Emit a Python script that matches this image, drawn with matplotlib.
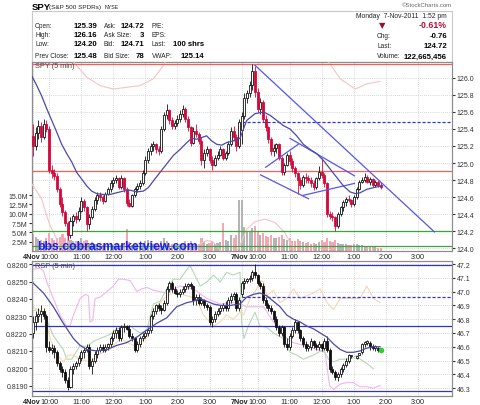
import numpy as np
import matplotlib
matplotlib.use('Agg')
import matplotlib.pyplot as plt
from matplotlib.transforms import ScaledTranslation, blended_transform_factory

plt.rcParams['font.family'] = ['Liberation Sans', 'DejaVu Sans']

# ---------------- SPY 5-min bars (4 Nov: 78 bars, 7 Nov: 53 bars) ----------------
spy_open = [125.32,125.20,125.35,125.44,125.30,125.46,125.40,124.92,124.88,124.85,124.70,124.52,124.42,124.30,124.15,124.32,124.38,124.34,124.44,124.55,
            124.48,124.28,124.36,124.46,124.56,124.62,124.60,124.55,124.64,124.70,124.76,124.80,124.82,124.72,124.82,124.70,124.53,124.50,124.62,124.70,
            124.73,124.76,124.88,125.04,125.14,125.20,125.22,125.16,125.14,125.40,125.56,125.62,125.50,125.44,125.47,125.52,125.58,125.64,125.52,125.42,
            125.24,125.38,125.34,125.26,125.04,125.12,125.16,125.04,124.98,125.06,125.10,125.16,125.06,125.12,125.22,125.38,125.30,125.20,
            125.39,125.55,125.76,125.82,125.92,126.08,125.84,125.64,125.72,125.52,125.42,125.28,125.14,125.18,125.22,125.06,124.90,124.98,125.10,125.02,
            124.94,124.88,124.80,124.74,124.84,124.82,124.80,124.76,124.72,124.82,124.90,124.86,124.76,124.40,124.38,124.36,124.26,124.40,124.48,124.54,
            124.58,124.57,124.52,124.60,124.70,124.78,124.80,124.84,124.78,124.81,124.74,124.78,124.74]
spy_high = [125.46,125.42,125.50,125.48,125.52,125.50,125.43,124.98,124.93,124.88,124.72,124.60,124.45,124.32,124.36,124.40,124.42,124.48,124.60,124.58,
            124.50,124.40,124.50,124.60,124.66,124.66,124.62,124.66,124.72,124.80,124.84,124.86,124.84,124.86,124.84,124.72,124.58,124.64,124.72,124.76,
            124.80,124.92,125.08,125.18,125.24,125.26,125.24,125.20,125.44,125.60,125.69,125.64,125.54,125.50,125.56,125.62,125.68,125.66,125.55,125.44,
            125.42,125.46,125.36,125.30,125.16,125.20,125.18,125.08,125.10,125.14,125.20,125.18,125.14,125.26,125.42,125.44,125.34,125.52,
            125.60,125.82,125.86,125.96,126.16,126.14,125.88,125.76,125.74,125.56,125.44,125.30,125.22,125.24,125.24,125.08,125.00,125.12,125.14,125.06,
            124.96,124.90,124.84,124.86,124.88,124.86,124.84,124.80,124.84,124.96,125.06,124.88,124.78,124.44,124.42,124.38,124.42,124.50,124.56,124.60,
            124.62,124.58,124.62,124.72,124.80,124.84,124.88,124.86,124.84,124.82,124.80,124.80,124.78]
spy_low = [125.08,125.15,125.28,125.25,125.28,125.36,124.88,124.82,124.80,124.66,124.48,124.38,124.26,124.09,124.12,124.26,124.30,124.32,124.42,124.44,
           124.20,124.22,124.34,124.44,124.52,124.55,124.52,124.54,124.62,124.66,124.72,124.76,124.70,124.70,124.66,124.50,124.48,124.48,124.60,124.66,
           124.70,124.74,124.86,125.00,125.10,125.14,125.12,125.10,125.12,125.38,125.52,125.46,125.40,125.40,125.44,125.48,125.54,125.48,125.38,125.20,
           125.22,125.30,125.22,124.98,124.94,125.08,125.00,124.92,124.96,125.04,125.08,125.04,125.04,125.10,125.20,125.26,125.14,125.18,
           125.22,125.52,125.70,125.78,125.86,125.78,125.60,125.58,125.48,125.38,125.24,125.10,125.08,125.12,125.04,124.86,124.86,124.96,124.98,124.90,
           124.84,124.64,124.70,124.72,124.76,124.76,124.72,124.68,124.70,124.80,124.82,124.72,124.36,124.34,124.32,124.20,124.24,124.38,124.44,124.50,
           124.54,124.48,124.50,124.58,124.68,124.76,124.78,124.76,124.74,124.72,124.72,124.72,124.70]
spy_close = [125.20,125.35,125.44,125.30,125.46,125.40,124.92,124.88,124.85,124.70,124.52,124.42,124.30,124.15,124.32,124.38,124.34,124.44,124.55,124.48,
             124.28,124.36,124.46,124.56,124.62,124.60,124.55,124.64,124.70,124.76,124.80,124.82,124.72,124.82,124.70,124.53,124.50,124.62,124.70,124.73,
             124.76,124.88,125.04,125.14,125.20,125.22,125.16,125.14,125.40,125.56,125.62,125.50,125.44,125.47,125.52,125.58,125.64,125.52,125.42,125.24,
             125.38,125.34,125.26,125.04,125.12,125.16,125.04,124.98,125.06,125.10,125.16,125.06,125.12,125.22,125.38,125.30,125.20,125.48,
             125.55,125.76,125.82,125.92,126.08,125.84,125.64,125.72,125.52,125.42,125.28,125.14,125.18,125.22,125.06,124.90,124.98,125.10,125.02,124.94,
             124.88,124.80,124.74,124.84,124.82,124.80,124.76,124.72,124.82,124.90,124.86,124.76,124.40,124.38,124.36,124.26,124.40,124.48,124.54,124.58,
             124.57,124.52,124.60,124.70,124.78,124.80,124.84,124.78,124.81,124.74,124.78,124.74,124.72]
spy_volume_m = [4.5,3.8,3.2,3.0,2.8,3.5,4.8,3.6,3.0,3.4,3.8,4.6,3.6,4.8,3.0,2.8,2.6,2.4,3.4,2.6,
                3.0,2.2,2.4,2.0,1.8,2.0,1.6,1.8,1.7,2.2,1.6,1.8,1.4,1.6,1.8,5.8,2.4,1.6,1.8,1.5,
                1.4,2.2,2.6,3.0,2.4,2.0,1.8,1.6,2.8,3.4,2.6,2.0,1.8,1.5,1.6,1.8,2.0,2.8,1.9,2.6,
                2.0,1.8,2.0,3.6,2.4,1.8,2.2,2.8,2.0,2.2,2.4,7.6,3.0,2.8,4.2,3.6,4.4,13.8,
                13.6,6.5,5.5,5.0,6.2,6.8,5.0,4.4,4.8,4.0,3.8,4.2,3.6,3.4,3.8,4.2,3.2,3.0,3.4,2.8,
                2.6,3.2,2.6,2.4,2.2,2.4,2.0,2.2,2.0,2.4,3.0,2.4,3.6,2.8,2.4,3.0,2.2,2.0,1.8,1.9,
                1.6,1.7,1.8,2.0,1.7,1.5,1.3,1.4,1.2,1.0,1.0,0.9,0.7]

# SPY overlays (bar index, price)
spy_ma_idx = [-0.4,1.4,3.2,5.1,7.0,8.9,10.7,12.6,14.5,16.3,18.2,20.1,21.9,23.8,26.3,28.8,31.3,33.8,36.3,38.8,41.3,43.1,45.0,47.5,50.0,52.5,55.0,57.5,59.3,61.2,63.1,64.9,66.8,68.7,70.6,72.4,74.9,77.4,
              79.9,83.0,86.2,88.7,91.2,93.6,96.1,98.6,101.1,103.6,106.1,108.6,111.1,113.6,116.1,118.6,120.5,122.3,124.8,127.3,130.4]
spy_ma = [126.02,125.91,125.79,125.64,125.50,125.36,125.22,125.11,125.01,124.89,124.81,124.73,124.67,124.64,124.63,124.63,124.65,124.67,124.68,124.66,124.67,124.71,124.79,124.89,124.99,125.09,125.16,125.24,125.29,125.28,125.30,125.32,125.26,125.22,125.21,125.24,125.26,125.29,
          125.50,125.58,125.60,125.56,125.50,125.44,125.40,125.32,125.22,125.16,125.11,125.03,124.93,124.83,124.73,124.66,124.64,124.65,124.69,124.71,124.73]
bb_up_idx_a = [12.6,15.7,20.1,25.1,30.0,35.0,40.0,45.0,48.8,50.0,51.2]
bb_up_a = [126.34,126.165,126.01,125.91,125.87,125.89,125.91,125.99,126.15,126.22,126.38]
bb_up_idx_b = [108.6,109.9,114.9,120.5,124.8,129.8]
bb_up_b = [126.30,126.22,125.99,125.87,125.93,125.96]
bb_lo_idx_a = [-0.4,3.2,5.1,6.4,8.2,10.1,12.0]
bb_lo_a = [124.75,124.58,124.38,124.26,124.15,124.01,123.87]
bb_lo_idx_b = [59.5,62.5,65.0,67.5,70.0]
bb_lo_b = [123.95,124.05,124.09,124.07,123.97]
bb_lo_idx_c = [76.0,77.4,79.9,83.0,86.7,90.5,94.2,96.7,98.0]
bb_lo_c = [123.95,124.03,124.22,124.31,124.34,124.30,124.18,124.03,123.95]

# horizontal levels and trend lines (price)
red_levels = [126.16, 124.91]
green_levels = [124.20, 124.02]
prev_close = 125.48
trend_x = [[83.0, 150.1], [87.0, 99.2], [96.1, 120.2], [85.1, 103.0], [101.1, 120.2]]
trend_y = [[126.15, 124.19], [124.95, 125.22], [125.29, 124.85], [124.86, 124.58], [124.62, 124.76]]

# ---------------- RSP 5-min bars ----------------
rsp_open = [46.70,46.78,46.82,46.84,46.86,46.82,46.60,46.58,46.59,46.56,46.48,46.44,46.42,46.36,46.31,46.44,46.46,46.48,46.52,46.56,
            46.58,46.60,46.46,46.50,46.55,46.58,46.60,46.58,46.60,46.62,46.66,46.70,46.72,46.66,46.74,46.75,46.73,46.68,46.66,46.58,
            46.62,46.66,46.68,46.70,46.72,46.82,46.86,46.90,46.88,46.87,46.92,47.02,47.06,47.02,46.99,46.98,47.00,47.02,47.04,47.05,
            47.04,46.94,46.96,46.92,46.94,46.90,46.89,46.78,46.80,46.84,46.86,46.88,46.90,46.88,46.94,46.97,46.98,46.88,
            46.98,47.06,47.08,47.09,47.10,47.14,47.12,47.06,47.04,46.94,46.90,46.88,46.86,46.80,46.74,46.70,46.74,46.62,46.60,46.68,
            46.72,46.78,46.72,46.66,46.62,46.59,46.60,46.64,46.61,46.60,46.62,46.59,46.64,46.58,46.44,46.42,46.38,46.40,46.44,46.47,
            46.50,46.53,np.nan,46.52,46.54,46.56,46.62,46.63,46.63,46.60,46.59,46.59,46.58]
rsp_high = [46.82,46.86,46.88,46.90,46.88,46.84,46.64,46.62,46.61,46.58,46.50,46.46,46.44,46.38,46.46,46.48,46.50,46.54,46.58,46.60,
            46.62,46.62,46.52,46.57,46.60,46.62,46.62,46.62,46.63,46.68,46.72,46.74,46.74,46.76,46.77,46.76,46.76,46.70,46.67,46.64,
            46.68,46.70,46.72,46.74,46.84,46.88,46.91,46.92,46.90,46.94,47.04,47.08,47.08,47.04,47.01,47.02,47.04,47.06,47.06,47.07,
            47.05,46.98,46.98,46.96,46.95,46.92,46.90,46.82,46.86,46.88,46.90,46.92,46.93,46.96,46.99,47.00,47.00,46.96,
            47.08,47.10,47.10,47.12,47.16,47.20,47.13,47.08,47.06,46.96,46.92,46.90,46.87,46.82,46.76,46.76,46.75,46.66,46.70,46.74,
            46.80,46.79,46.73,46.68,46.64,46.62,46.66,46.65,46.63,46.64,46.63,46.66,46.68,46.59,46.46,46.43,46.42,46.45,46.48,46.52,
            46.55,46.54,np.nan,46.53,46.55,46.63,46.64,46.65,46.64,46.62,46.61,46.60,46.59]
rsp_low = [46.66,46.72,46.78,46.78,46.80,46.56,46.56,46.55,46.52,46.46,46.42,46.38,46.34,46.29,46.30,46.40,46.44,46.46,46.50,46.52,
           46.56,46.44,46.40,46.48,46.52,46.56,46.56,46.56,46.58,46.60,46.64,46.66,46.64,46.64,46.71,46.72,46.66,46.64,46.56,46.56,
           46.60,46.64,46.66,46.68,46.70,46.80,46.84,46.86,46.84,46.86,46.90,47.00,47.00,46.98,46.96,46.96,46.98,47.00,47.02,47.02,
           46.90,46.90,46.90,46.90,46.88,46.87,46.76,46.74,46.78,46.82,46.84,46.86,46.86,46.86,46.92,46.94,46.86,46.86,
           46.96,47.02,47.06,47.07,47.08,47.10,47.05,47.02,46.92,46.88,46.86,46.84,46.78,46.72,46.68,46.68,46.60,46.58,46.58,46.66,
           46.70,46.70,46.64,46.60,46.57,46.57,46.58,46.59,46.58,46.58,46.57,46.58,46.56,46.42,46.40,46.36,46.35,46.38,46.42,46.45,
           46.48,46.52,np.nan,46.51,46.54,46.55,46.60,46.61,46.58,46.58,46.57,46.56,46.57]
rsp_close = [46.78,46.82,46.84,46.86,46.82,46.60,46.58,46.59,46.56,46.48,46.44,46.42,46.36,46.31,46.44,46.46,46.48,46.52,46.56,46.58,
             46.60,46.46,46.50,46.55,46.58,46.60,46.58,46.60,46.62,46.66,46.70,46.72,46.66,46.74,46.75,46.73,46.68,46.66,46.58,46.62,
             46.66,46.68,46.70,46.72,46.82,46.86,46.90,46.88,46.87,46.92,47.02,47.06,47.02,46.99,46.98,47.00,47.02,47.04,47.05,47.04,
             46.94,46.96,46.92,46.94,46.90,46.89,46.78,46.80,46.84,46.86,46.88,46.90,46.88,46.94,46.97,46.98,46.88,46.94,
             47.06,47.08,47.09,47.10,47.14,47.12,47.06,47.04,46.94,46.90,46.88,46.86,46.80,46.74,46.70,46.74,46.62,46.60,46.68,46.72,
             46.78,46.72,46.66,46.62,46.59,46.60,46.64,46.61,46.60,46.62,46.59,46.64,46.58,46.44,46.42,46.38,46.40,46.44,46.47,46.50,
             46.54,46.53,np.nan,46.53,46.55,46.62,46.63,46.63,46.60,46.59,46.59,46.58,46.58]

rsp_ma_idx = [-0.4,3.9,7.6,11.3,15.1,17.6,20.1,23.8,27.6,31.3,35.0,38.8,42.5,46.2,50.0,53.7,57.5,60.0,62.5,65.0,67.5,70.0,73.7,77.4,
              79.9,82.4,84.9,87.4,89.9,92.4,94.9,97.4,99.9,102.4,104.9,107.4,109.9,112.4,114.9,117.3,119.8,122.3,124.8,127.3,129.8]
rsp_ma = [47.07,46.99,46.89,46.77,46.66,46.61,46.58,46.57,46.58,46.61,46.63,46.67,46.72,46.77,46.81,46.89,46.92,46.93,46.95,46.93,46.91,46.90,46.90,46.91,
          46.96,46.98,46.99,46.97,46.93,46.89,46.83,46.80,46.78,46.75,46.73,46.70,46.67,46.62,46.58,46.56,46.56,46.57,46.59,46.60,46.60]
pink_idx = [-0.4,2.6,3.9,5.1,7.6,10.1,12.6,13.8,15.1,17.6,19.5,20.7,21.3,22.3,23.2,25.1,27.6,30.0,31.9,33.8,36.3,38.8,40.6,42.5,45.0,47.5,
            50.0,55.0,60.0,65.0,70.0,75.0,77.4,79.9,83.7,86.2,89.9,93.6,97.4,101.1,106.1,109.2,110.9,112.4,114.9,117.3,119.8,122.3,124.8,127.3,129.8]
pink_val = [47.16,47.17,47.15,47.07,46.95,46.83,46.75,46.75,46.83,46.95,46.98,46.97,46.78,46.79,46.95,46.96,47.00,47.04,47.09,47.09,47.08,47.00,47.02,47.03,47.01,47.00,
            46.99,47.04,47.02,46.95,46.91,46.92,46.91,46.89,46.89,46.89,46.78,46.68,46.63,46.61,46.58,46.56,46.32,46.29,46.33,46.34,46.34,46.31,46.31,46.30,46.32]
green_idx = [-0.4,2.0,3.9,7.6,11.3,12.6,14.5,17.6,20.1,22.6,25.1,28.8,31.3,33.8,36.3,40.0,42.5,45.0,47.5,50.0,52.5,55.0,57.5,58.7,60.0,62.5,65.0,67.5,70.0,72.4,74.9,77.4,
             78.0,78.9,80.5,83.0,84.9,87.4,89.9,93.6,96.1,98.6,101.1,104.9,108.6,110.5,112.4,114.9,117.3,119.8,121.1,122.3,124.8,127.3]
green_val = [46.86,46.87,46.85,46.68,46.58,46.51,46.51,46.61,46.60,46.64,46.66,46.69,46.73,46.74,46.75,46.70,46.72,46.91,46.93,47.02,47.09,47.09,47.16,47.19,47.14,47.04,47.07,47.12,47.07,47.14,47.12,47.14,
             46.78,46.66,46.75,46.85,46.75,46.74,46.70,46.66,46.56,46.54,46.51,46.54,46.58,46.51,46.49,46.51,46.51,46.52,46.54,46.51,46.48,46.44]
orange_idx = [-0.4,3.9,6.4,8.9,11.3,13.2,15.1,17.6,21.3,25.1,28.8,32.5,37.5,42.5,45.0,50.0,52.5,57.5,61.2,63.7,67.5,70.0,72.4,74.9,77.4,
              78.7,81.2,83.7,84.9,86.2,87.4,89.9,92.4,94.9,97.4,99.9,102.4,104.9,107.4,109.9,112.4,114.9,117.3,119.8,122.3,124.8,127.3,129.8]
orange_val = [46.89,46.85,46.66,46.54,46.49,46.54,46.54,46.51,46.49,46.55,46.58,46.66,46.61,46.66,46.87,46.97,46.99,46.97,46.95,46.83,46.75,46.78,46.83,46.80,46.85,
              46.83,46.95,47.02,47.08,47.07,46.97,47.01,46.92,46.95,47.02,46.95,46.97,46.99,47.02,46.92,46.87,46.95,46.95,46.95,46.95,47.04,46.95,46.92]
rsp_levels = [47.193, 46.748, 46.282]
rsp_dashed = 46.963

tick_idx = [0, 6, 18, 30, 42, 54, 66, 78, 84, 96, 108, 120, 132, 144]
tick_lbl = ['4Nov', '10:00', '11:00', '12:00', '1:00', '2:00', '3:00', '7Nov', '10:00', '11:00', '12:00', '1:00', '2:00', '3:00']
price_ticks = [124.0, 124.2, 124.4, 124.6, 124.8, 125.0, 125.2, 125.4, 125.6, 125.8, 126.0]
vol_ticks = [2.5, 5.0, 7.5, 10.0, 12.5, 15.0]
rsp_ticks = [46.3, 46.4, 46.5, 46.6, 46.7, 46.8, 46.9, 47.0, 47.1, 47.2]
ratio_ticks = [0.8190, 0.8200, 0.8210, 0.8220, 0.8230, 0.8240, 0.8250, 0.8260]

# ---------------- figure ----------------
W, H = 480, 406
fig = plt.figure(figsize=(4.8, 4.06), dpi=100)
def fx(x): return x / W
def fy(y): return 1 - y / H

XLIM = (-0.4, 156.7)
GRID = dict(color='#c8c8c8', lw=0.6, ls=(0, (1, 1.5)))
RED = '#d6083b'
TS = 5.0
LS = 4.7   # header label size
VS = 5.6   # header value size

def candles(a, o, h, l, c, up_edge, dn_face, dn_edge, lw=0.6):
    x = np.arange(len(o))
    o = np.asarray(o, float); h = np.asarray(h, float); l = np.asarray(l, float); c = np.asarray(c, float)
    ok = ~np.isnan(o)
    up = ok & (c >= o); dn = ok & (c < o)
    a.vlines(x[up], l[up], h[up], color=up_edge, lw=lw, zorder=4)
    a.vlines(x[dn], l[dn], h[dn], color=dn_edge, lw=lw, zorder=4)
    bh = np.maximum(np.abs(c - o), 0.012)
    a.bar(x[up], bh[up], bottom=np.minimum(o, c)[up], width=0.75, facecolor='white',
          edgecolor=up_edge, lw=lw, zorder=5)
    a.bar(x[dn], bh[dn], bottom=np.minimum(o, c)[dn], width=0.75, facecolor=dn_face,
          edgecolor=dn_edge, lw=lw, zorder=5)

def style_spines(a):
    for s in a.spines.values():
        s.set_color('#8c8c8c'); s.set_linewidth(0.8)

def time_labels(a):
    # hour labels as ticks; day labels drawn right-aligned just left of the next hour label
    a.set_xticks(tick_idx)
    a.set_xticklabels(['' if 'Nov' in t else t for t in tick_lbl])
    a.tick_params(axis='x', length=0, labelsize=5.2, pad=1.5, colors='#222222', labelbottom=True)
    tr = blended_transform_factory(a.transData, a.transAxes) + ScaledTranslation(7.2 / 100, -1.5 / 72, fig.dpi_scale_trans)
    for t, s in zip(tick_idx, tick_lbl):
        if 'Nov' in s:
            a.text(t, 0, s, transform=tr, ha='right', va='top', fontsize=5.2, fontweight='bold',
                   color='#222222', clip_on=False)

# ---- top panel ----
axv = fig.add_axes([fx(32), fy(252), fx(452) - fx(32), fy(63) - fy(252)])
ax = axv.twinx()
axv.set_zorder(1); ax.set_zorder(2); ax.patch.set_visible(False)
n = len(spy_close)
xs = np.arange(n)
vcol = ['#f2a7b3' if c < o else '#b4b4b4' for o, c in zip(spy_open, spy_close)]
axv.bar(xs, spy_volume_m, width=0.78, color=vcol, edgecolor='none', zorder=2)
axv.set_ylim(0, 50.8)
axv.set_xlim(*XLIM)
axv.yaxis.tick_left()
axv.set_yticks(vol_ticks)
axv.set_yticklabels(['%.1fM' % v for v in vol_ticks])
axv.tick_params(axis='y', labelsize=TS, length=2, pad=1, colors='#333333')
for t in tick_idx:
    axv.axvline(t, **GRID, zorder=1)
for p in price_ticks:
    axv.axhline(50.8 * (p - 123.965) / (126.188 - 123.965), **GRID, zorder=1)

ax.set_xlim(*XLIM)
ax.set_ylim(123.965, 126.188)
ax.yaxis.tick_right()
ax.set_yticks(price_ticks)
ax.set_yticklabels(['%.1f' % p for p in price_ticks])
ax.tick_params(axis='y', labelsize=TS, length=2, pad=1.5, colors='#333333')

for bx, by in [(bb_up_idx_a, bb_up_a), (bb_up_idx_b, bb_up_b), (bb_lo_idx_a, bb_lo_a),
               (bb_lo_idx_b, bb_lo_b), (bb_lo_idx_c, bb_lo_c)]:
    ax.plot(bx, by, color='#f4c4c4', lw=0.8, zorder=3)
for lv in red_levels:
    ax.axhline(lv, color='#ff5a5a', lw=0.9, zorder=3)
for lv in green_levels:
    ax.axhline(lv, color='#3aa63a', lw=0.9, zorder=3)
ax.plot([78, XLIM[1]], [prev_close, prev_close], color='#3333dd', lw=0.9, ls=(0, (2.5, 1.5)), zorder=3)
for tx, ty in zip(trend_x, trend_y):
    ax.plot(tx, ty, color='#5555ee', lw=0.9, zorder=6)
ax.plot(spy_ma_idx, spy_ma, color='#4a4aa8', lw=0.9, zorder=6)
candles(ax, spy_open, spy_high, spy_low, spy_close, '#111111', RED, RED)
time_labels(axv)
ax.text(0.006, 0.998, 'SPY (5 min)', transform=ax.transAxes, ha='left', va='top', fontsize=5.3, color='#444444', zorder=7)
style_spines(ax); style_spines(axv)

# ---- bottom panel (axb: RSP price on right; axl: twin with ratio scale on left) ----
axb = fig.add_axes([fx(32), fy(397), fx(452) - fx(32), fy(262) - fy(397)])
axl = axb.twinx()
ylo, yhi = 46.243, 47.222
axb.set_xlim(*XLIM)
axb.set_ylim(ylo, yhi)
def to_ratio(v):
    return 0.82601 + 0.007944 * (v - 47.2)
axl.set_ylim(to_ratio(ylo), to_ratio(yhi))
axl.yaxis.tick_left()
axl.set_yticks(ratio_ticks)
axl.set_yticklabels(['%.4f' % v for v in ratio_ticks])
axl.tick_params(axis='y', labelsize=TS, length=2, pad=1, colors='#333333')
axb.yaxis.tick_right()
axb.set_yticks(rsp_ticks)
axb.set_yticklabels(['%.1f' % v for v in rsp_ticks])
axb.tick_params(axis='y', labelsize=TS, length=2, pad=1.5, colors='#333333')
for t in tick_idx:
    axb.axvline(t, **GRID, zorder=1)
for p in rsp_ticks:
    axb.axhline(p, **GRID, zorder=1)
axb.plot(pink_idx, pink_val, color='#f0b4f0', lw=0.8, zorder=3)
axb.plot(green_idx, green_val, color='#b4d8b4', lw=0.8, zorder=3)
axb.plot(orange_idx, orange_val, color='#f4d8b0', lw=0.8, zorder=3)
for lv in rsp_levels:
    axb.axhline(lv, color='#3333cc', lw=0.9, zorder=3)
axb.plot([78, XLIM[1]], [rsp_dashed, rsp_dashed], color='#3333dd', lw=0.9, ls=(0, (2.5, 1.5)), zorder=3)
axb.plot(rsp_ma_idx, rsp_ma, color='#4a4aa8', lw=0.9, zorder=6)
candles(axb, rsp_open, rsp_high, rsp_low, rsp_close, '#111111', '#111111', '#111111')
axb.plot([len(rsp_close) - 1], [rsp_close[-1]], 'o', ms=3, color='#33cc33', zorder=8)
time_labels(axb)
axb.text(0.006, 0.995, 'RSP (5 min)', transform=axb.transAxes, ha='left', va='top', fontsize=5.3, color='#444444', zorder=7)
style_spines(axb); style_spines(axl)

# ---- header ----
fig.patches.append(plt.Rectangle((fx(32), fy(63)), fx(452) - fx(32), fy(12) - fy(63), transform=fig.transFigure,
                                 facecolor='white', edgecolor='#c8c8c8', lw=0.8, zorder=0))
fig.text(fx(32), fy(7), 'SPY', fontsize=6.8, fontweight='bold', va='center', ha='left')
fig.text(fx(49), fy(7.5), '(S&P 500 SPDRs)', fontsize=4.6, va='center', ha='left', color='#222222')
fig.text(fx(105), fy(7.5), 'NYSE', fontsize=3.8, va='center', ha='left', color='#222222')
fig.text(fx(452), fy(5.5), '\u00a9StockCharts.com', fontsize=4.3, va='center', ha='right', color='#666666')

rows_y = [27, 35.5, 44, 57]
lab1 = ['Open:', 'High:', 'Low:', 'Prev Close:']
val1 = ['125.39', '126.16', '124.20', '125.48']
lab2 = ['Ask:', 'Ask Size:', 'Bid:', 'Bid Size:']
val2 = ['124.72', '3', '124.71', '78']
lab3 = ['P/E:', 'EPS:', 'Last:', 'VWAP:']
val3 = ['', '', '100 shrs', '125.14']
for y, a1, v1, a2, v2, a3, v3 in zip(rows_y, lab1, val1, lab2, val2, lab3, val3):
    fig.text(fx(35), fy(y), a1, fontsize=LS, va='center', ha='left', color='#222222')
    fig.text(fx(97), fy(y), v1, fontsize=VS, fontweight='bold', va='center', ha='right')
    fig.text(fx(104), fy(y), a2, fontsize=LS, va='center', ha='left', color='#222222')
    fig.text(fx(144), fy(y), v2, fontsize=VS, fontweight='bold', va='center', ha='right')
    fig.text(fx(152), fy(y), a3, fontsize=LS, va='center', ha='left', color='#222222')
    if v3:
        fig.text(fx(204), fy(y), v3, fontsize=VS, fontweight='bold', va='center', ha='right')

fig.text(fx(447), fy(16.5), 'Monday  7-Nov-2011  1:52 pm', fontsize=4.9, va='center', ha='right', color='#222222')
fig.text(fx(382), fy(26), '\u25bc', fontsize=6, va='center', ha='center', color='#99102a', family=['DejaVu Sans'])
fig.text(fx(447), fy(26), '-0.61%', fontsize=6.3, fontweight='bold', va='center', ha='right', color='#b0103a')
for y, a, v in zip([37, 46.5, 57], ['Chg:', 'Last:', 'Volume:'], ['-0.76', '124.72', '122,665,456']):
    fig.text(fx(377), fy(y), a, fontsize=LS, va='center', ha='left', color='#222222')
    fig.text(fx(447), fy(y), v, fontsize=VS, fontweight='bold', va='center', ha='right')

fig.text(fx(37), fy(247.5), 'bbs.cobrasmarketview.com', fontsize=8.8, fontweight='bold', va='center', ha='left',
         color='#1a1aff', zorder=10)

fig.savefig('out.png', dpi=100)
